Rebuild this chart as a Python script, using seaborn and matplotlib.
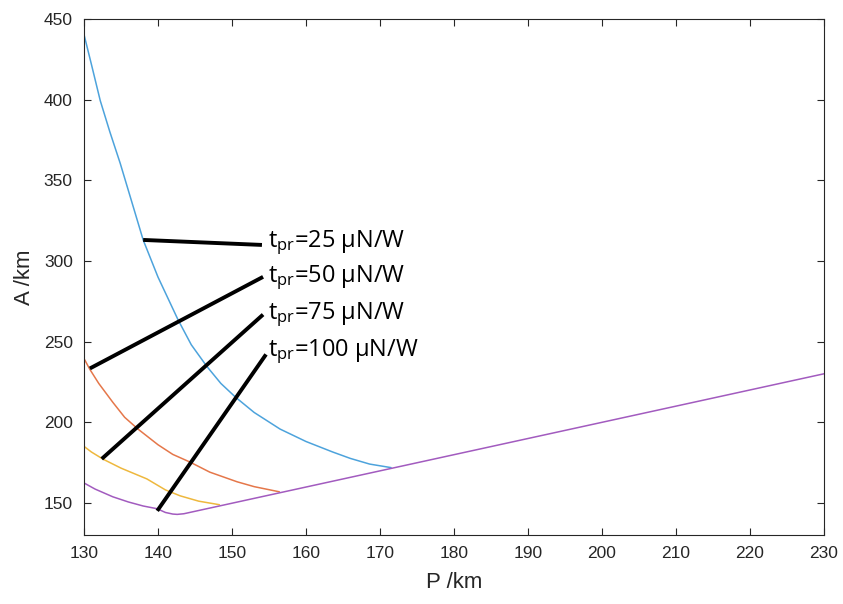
import numpy as np
import pandas as pd
import seaborn as sns
import matplotlib.pyplot as plt

# --- Data (P /km, A /km) ---
P_25 = [130.0, 131.0, 132.2, 133.5, 134.9, 136.5, 138.0, 140.0, 142.7, 144.5,
        146.6, 148.5, 150.5, 153.0, 156.5, 160.0, 163.6, 166.0, 168.6, 171.5]
A_25 = [440.5, 422.0, 399.4, 380.0, 360.5, 336.0, 313.0, 290.0, 263.6, 248.0,
        234.6, 224.0, 215.4, 206.0, 195.7, 188.0, 181.5, 177.5, 174.0, 171.8]

P_50 = [130.0, 130.8, 132.0, 133.9, 135.5, 137.3, 140.0, 142.0, 144.3, 147.0,
        150.7, 153.0, 156.4]
A_50 = [239.5, 232.7, 224.0, 212.3, 203.0, 195.7, 186.0, 180.0, 175.3, 169.0,
        163.0, 160.0, 156.8]

P_75 = [130.0, 131.0, 132.6, 135.0, 138.5, 141.0, 143.0, 145.5, 148.3]
A_75 = [185.0, 181.5, 177.0, 171.5, 164.8, 158.0, 154.3, 151.0, 148.8]

P_100 = [130.0, 131.5, 133.9, 136.0, 138.0, 139.9, 141.0, 142.0, 142.6, 143.5, 230.0]
A_100 = [162.3, 158.5, 153.7, 150.5, 148.0, 146.3, 144.0, 143.0, 142.8, 143.2, 230.0]

SERIES = ['25', '50', '75', '100']
COLORS = ['#4da3dc', '#e5774a', '#eeb83e', '#a25bbf']

# annotation leaders: start point on curve -> end point near label
LEAD_START = [(138.0, 313.0), (130.8, 233.3), (132.4, 177.2), (139.9, 145.0)]
LEAD_END = [(154.05, 309.9), (154.2, 290.1), (154.2, 266.7), (154.6, 242.0)]
LABEL_POS = [(154.8, 311.5), (154.8, 289.5), (154.8, 266.5), (154.8, 244.0)]

X_TICKS = list(range(130, 231, 10))
Y_TICKS = list(range(150, 451, 50))


def build_frame():
    parts = []
    for name, p, a in zip(SERIES, [P_25, P_50, P_75, P_100], [A_25, A_50, A_75, A_100]):
        df = pd.DataFrame({'P': p, 'A': a})
        df['series'] = name
        parts.append(df)
    return pd.concat(parts, ignore_index=True)


def main():
    sns.set_theme(style='white')
    plt.rcParams['font.family'] = ['Liberation Sans', 'DejaVu Sans']

    data = build_frame()

    fig = plt.figure(figsize=(8.43, 6.04), dpi=100)
    ax = fig.add_axes([0.0996, 0.1142, 0.8779, 0.8543])

    sns.lineplot(data=data, x='P', y='A', hue='series', hue_order=SERIES,
                 palette=dict(zip(SERIES, COLORS)), sort=False, estimator=None,
                 units='series', linewidth=1.1, legend=False, ax=ax)

    # black leader lines + labels
    for (x0, y0), (x1, y1), (tx, ty), name in zip(LEAD_START, LEAD_END, LABEL_POS, SERIES):
        ax.plot([x0, x1], [y0, y1], color='black', linewidth=2.8, solid_capstyle='butt')
        ax.text(tx, ty, r'$\mathregular{t_{pr}}$=' + name + ' μN/W',
                fontsize=17, va='center', ha='left', color='black',
                family=['Open Sans', 'DejaVu Sans'])

    ax.set_xlim(130, 230)
    ax.set_ylim(130, 450)
    ax.set_xticks(X_TICKS)
    ax.set_yticks(Y_TICKS)
    ax.tick_params(direction='in', length=5, width=0.8, colors='#262626',
                   labelsize=12.5, top=True, right=True, bottom=True, left=True,
                   labelcolor='#262626', pad=8)
    for s in ax.spines.values():
        s.set_color('#262626')
        s.set_linewidth(0.8)

    ax.set_xlabel('P /km', fontsize=16, color='#262626', labelpad=8)
    ax.set_ylabel('A /km', fontsize=16, color='#262626', labelpad=6)

    fig.savefig('out.png', dpi=100)
    plt.close(fig)


if __name__ == '__main__':
    main()
